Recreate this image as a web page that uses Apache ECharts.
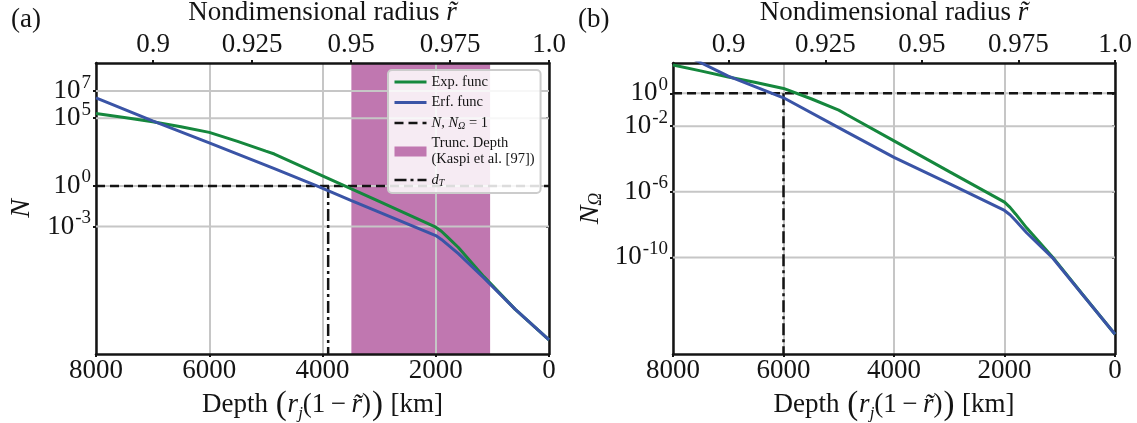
<!DOCTYPE html>
<html>
<head>
<meta charset="utf-8">
<script src="https://cdn.jsdelivr.net/npm/echarts@6/dist/echarts.min.js"></script>
<style>
html,body{margin:0;padding:0;background:#fff;}
#chart{width:1137px;height:423px;}
</style>
</head>
<body>
<div id="chart"></div>
<script>
// ---------- data ----------
const R_J = 69911;                               // Jupiter radius [km], for the top axis
const depthTicks = [8000, 6000, 4000, 2000, 0];
const radiusTicks = [0.9, 0.925, 0.95, 0.975, 1.0];
const yTicksA = [7, 5, 0, -3];                   // exponents shown on panel (a)
const yTicksB = [0, -2, -6, -10];                // exponents shown on panel (b)
const yRangeA = [-12.41, 9.07];                  // log10 range of panel (a)
const yRangeB = [-15.89, 1.85];                  // log10 range of panel (b)

// panel (a): log10 N
const depthExpA = [8000, 7500, 7000, 6500, 6000, 5500, 5000, 4850, 4000, 3000, 2000, 1900, 1800, 1600, 1150, 600, 0];
const logNExpA  = [5.35, 5.05, 4.73, 4.37, 3.95, 3.28, 2.56, 2.35, 0.74, -1.15, -3.05, -3.35, -3.75, -4.55, -6.7, -9.1, -11.37];
const depthErfA = [8000, 7000, 6000, 4850, 4100, 3500, 2000, 1900, 1800, 1600, 1150, 600, 0];
const logNErfA  = [6.5, 4.8, 3.18, 1.27, 0, -1.07, -3.67, -3.95, -4.3, -5.0, -6.8, -9.1, -11.37];

// panel (b): log10 N_Omega
const depthExpB = [8000, 7500, 7000, 6500, 6000, 5500, 5000, 4860, 4000, 3000, 2000, 1900, 1800, 1600, 1124, 600, 0];
const logNExpB  = [1.73, 1.37, 1.0, 0.66, 0.3, -0.33, -1.02, -1.29, -2.9, -4.77, -6.63, -6.95, -7.35, -8.2, -10.0, -12.2, -14.69];
const depthErfB = [8000, 7000, 6000, 4860, 4000, 3000, 2000, 1900, 1800, 1600, 1124, 600, 0];
const logNErfB  = [2.7, 1.05, -0.27, -2.35, -3.9, -5.5, -7.14, -7.4, -7.75, -8.5, -10.05, -12.22, -14.69];

const thresholdLog = 0;              // N, N_Omega = 1
const truncDepth = [3490, 1040];     // Kaspi et al. truncation-depth band (panel a)
const dTA = 3900;                    // d_T panel (a)
const dTB = 6000;                    // d_T panel (b)

// ---------- styling ----------
const FONT = "'Liberation Serif', 'Times New Roman', serif";
const GREEN = '#15873d', BLUE = '#3a54a6', PINK = '#c077b0', INK = '#141414', GRID = '#c6c6c6';

const zip = (xs, ys) => xs.map((x, i) => [x, ys[i]]);
const evens = a => a.filter((_, i) => i % 2 === 0);
const odds = a => a.filter((_, i) => i % 2 === 1);

const supRich = {
  b: {fontFamily: FONT, fontSize: 27, color: INK, lineHeight: 22},
  s: {fontFamily: FONT, fontSize: 19, color: INK, verticalAlign: 'top', height: 5, lineHeight: 6, padding: [0, 0, 0, 1]}
};
const powLabel = v => '{b|10}{s|' + v + '}';

function bottomAxis(gridIndex){
  return {
    type: 'value', gridIndex, position: 'bottom', inverse: true,
    min: 0, max: 8000, interval: 2000,
    axisLine: {show: true, onZero: false, lineStyle: {color: INK, width: 2.5}},
    axisTick: {show: true, length: 3, lineStyle: {color: INK, width: 2}},
    axisLabel: {fontFamily: FONT, fontSize: 27, color: INK, margin: 3, hideOverlap: false,
      showMinLabel: true, showMaxLabel: true, formatter: v => String(v)},
    splitLine: {show: true, lineStyle: {color: GRID, width: 2}},
    name: 'Depth {p|(}{i|r}{sub|j}(1\u2009−\u2009{i|r\u0303}){p|)} [km]',
    nameLocation: 'middle', nameGap: 34,
    nameTextStyle: {
      fontFamily: FONT, fontSize: 27, color: INK,
      rich: {
        i: {fontFamily: FONT, fontSize: 27, fontStyle: 'italic', color: INK},
        sub: {fontFamily: FONT, fontSize: 17, fontStyle: 'italic', color: INK, verticalAlign: 'bottom', lineHeight: 22},
        p: {fontFamily: FONT, fontSize: 33, color: INK, padding: [0, 1, 0, 1]}
      }
    }
  };
}
function topAxis(gridIndex){
  return {
    type: 'value', gridIndex, position: 'top',
    min: 1 - 8000 / R_J, max: 1,
    axisLine: {show: true, onZero: false, lineStyle: {color: INK, width: 2.5}},
    axisTick: {show: true, length: 3, customValues: radiusTicks, lineStyle: {color: INK, width: 2}},
    axisLabel: {fontFamily: FONT, fontSize: 27, color: INK, margin: 5, customValues: radiusTicks, hideOverlap: false,
      showMinLabel: true, showMaxLabel: true,
      formatter: v => (v === 1 ? '1.0' : String(v))},
    splitLine: {show: false},
    name: 'Nondimensional radius {i|r\u0303}',
    nameLocation: 'middle', nameGap: 29,
    nameTextStyle: {fontFamily: FONT, fontSize: 27, color: INK,
      rich: {i: {fontFamily: FONT, fontSize: 27, fontStyle: 'italic', color: INK}}}
  };
}
function leftAxis(gridIndex, range, ticks, name, nameGap){
  return {
    type: 'value', gridIndex, position: 'left', min: range[0], max: range[1],
    axisLine: {show: true, onZero: false, lineStyle: {color: INK, width: 2.5}},
    axisTick: {show: true, length: 3, customValues: ticks, lineStyle: {color: INK, width: 2}},
    axisLabel: {customValues: ticks, formatter: powLabel, rich: supRich, margin: 5, hideOverlap: false,
      showMinLabel: true, showMaxLabel: true},
    splitLine: {show: false},
    name, nameLocation: 'middle', nameGap, nameRotate: 90,
    nameTextStyle: {fontFamily: FONT, fontSize: 28, fontStyle: 'italic', color: INK,
      rich: {
        i: {fontFamily: FONT, fontSize: 28, fontStyle: 'italic', color: INK},
        sub: {fontFamily: FONT, fontSize: 18, color: INK, verticalAlign: 'bottom', lineHeight: 24}
      }}
  };
}
// second left axis carrying the alternate tick labels (so close labels are never dropped)
function leftAuxAxis(gridIndex, range, ticks){
  return {
    type: 'value', gridIndex, position: 'left', offset: 0, min: range[0], max: range[1],
    axisLine: {show: false, onZero: false},
    axisTick: {show: true, length: 3, customValues: ticks, lineStyle: {color: INK, width: 2}},
    axisLabel: {customValues: ticks, formatter: powLabel, rich: supRich, margin: 5, hideOverlap: false,
      showMinLabel: true, showMaxLabel: true},
    splitLine: {show: false}
  };
}
function rightAxis(gridIndex, range, ticks){
  return {
    type: 'value', gridIndex, position: 'right', min: range[0], max: range[1],
    axisLine: {show: true, onZero: false, lineStyle: {color: INK, width: 2.5}},
    axisTick: {show: true, inside: true, length: 3, customValues: ticks, lineStyle: {color: INK, width: 2}},
    axisLabel: {show: false},
    splitLine: {show: false}
  };
}

// horizontal grid lines at the labelled exponents, drawn through the axes' scales
function hGridSeries(xi, yi, ticks){
  return {
    name: 'hgrid', type: 'custom', xAxisIndex: xi, yAxisIndex: yi, z: 1, silent: true,
    data: ticks.map(v => [v]),
    encode: {y: 0},
    renderItem: (params, api) => {
      const a = api.coord([depthTicks[0], api.value(0)]);
      const b = api.coord([depthTicks[depthTicks.length - 1], api.value(0)]);
      return {type: 'line', shape: {x1: a[0], y1: a[1], x2: b[0], y2: b[1]},
        style: {stroke: GRID, lineWidth: 2}};
    }
  };
}

function panelSeries(xi, yi, expD, expL, erfD, erfL, dT, yMin, withBand){
  const s = [
    {name: 'Exp', type: 'line', xAxisIndex: xi, yAxisIndex: yi, data: zip(expD, expL),
      symbol: 'none', z: 4, lineStyle: {color: GREEN, width: 3}, itemStyle: {color: GREEN}},
    {name: 'Erf', type: 'line', xAxisIndex: xi, yAxisIndex: yi, data: zip(erfD, erfL),
      symbol: 'none', z: 5, lineStyle: {color: BLUE, width: 3}, itemStyle: {color: BLUE}},
    {name: 'N1', type: 'line', xAxisIndex: xi, yAxisIndex: yi, data: [[8000, thresholdLog], [0, thresholdLog]],
      symbol: 'none', z: 3, lineStyle: {color: INK, width: 2.5, type: [9, 5]}, itemStyle: {color: INK}},
    {name: 'dT', type: 'line', xAxisIndex: xi, yAxisIndex: yi, data: [[dT, thresholdLog], [dT, yMin]],
      symbol: 'none', z: 3, lineStyle: {color: INK, width: 2.5, type: [12, 4, 3, 4]}, itemStyle: {color: INK}}
  ];
  if (withBand) {
    s.push({
      name: 'Trunc', type: 'custom', xAxisIndex: xi, yAxisIndex: yi, z: -1,
      itemStyle: {color: PINK},
      data: [[truncDepth[0], truncDepth[1]]],
      encode: {x: [0, 1]},
      renderItem: (params, api) => {
        const p0 = api.coord([api.value(0), yRangeA[1]]);
        const p1 = api.coord([api.value(1), yRangeA[0]]);
        return {type: 'rect',
          shape: {x: Math.min(p0[0], p1[0]), y: p0[1], width: Math.abs(p1[0] - p0[0]), height: p1[1] - p0[1]},
          style: {fill: PINK}};
      }
    });
  }
  return s;
}

const legendNames = {
  'Exp': 'Exp. func',
  'Erf': 'Erf. func',
  'N1': '{i|N}, {i|N}{sub|Ω} = 1',
  'Trunc': 'Trunc. Depth\n(Kaspi et al. [97])',
  'dT': '{i|d}{sub|T}'
};
const hideSym = {opacity: 0};

const option = {
  backgroundColor: '#ffffff',
  animation: false,
  title: [
    {text: '(a)', left: 11, top: 6, padding: 0, textStyle: {fontFamily: FONT, fontSize: 27, fontWeight: 'normal', color: INK}},
    {text: '(b)', left: 578, top: 6, padding: 0, textStyle: {fontFamily: FONT, fontSize: 27, fontWeight: 'normal', color: INK}}
  ],
  grid: [
    {left: 96, right: 1137 - 549, top: 63, bottom: 423 - 354, containLabel: false, outerBoundsMode: 'none'},
    {left: 673, right: 1137 - 1115, top: 63, bottom: 423 - 354, containLabel: false, outerBoundsMode: 'none'}
  ],
  xAxis: [bottomAxis(0), topAxis(0), bottomAxis(1), topAxis(1)],
  yAxis: [
    leftAxis(0, yRangeA, evens(yTicksA), 'N', 60),
    rightAxis(0, yRangeA, yTicksA),
    leftAxis(1, yRangeB, evens(yTicksB), '{i|N}{sub|Ω}', 68),
    rightAxis(1, yRangeB, yTicksB),
    leftAuxAxis(0, yRangeA, odds(yTicksA)),
    leftAuxAxis(1, yRangeB, odds(yTicksB))
  ],
  legend: {
    orient: 'vertical', left: 388, top: 70,
    data: [
      {name: 'Exp', itemStyle: hideSym, lineStyle: {width: 3}},
      {name: 'Erf', itemStyle: hideSym, lineStyle: {width: 3}},
      {name: 'N1', itemStyle: hideSym, lineStyle: {width: 2.5}},
      {name: 'Trunc', icon: 'rect'},
      {name: 'dT', itemStyle: hideSym, lineStyle: {width: 2.5}}
    ],
    formatter: n => legendNames[n],
    itemWidth: 32, itemHeight: 10, itemGap: 4.5,
    padding: [4, 6, 5, 5],
    backgroundColor: 'rgba(255,255,255,0.85)',
    borderColor: '#cccccc', borderWidth: 2, borderRadius: 4,
    textStyle: {fontFamily: FONT, fontSize: 14.5, lineHeight: 16, color: INK,
      rich: {
        i: {fontFamily: FONT, fontSize: 14.5, fontStyle: 'italic', color: INK},
        sub: {fontFamily: FONT, fontSize: 10, fontStyle: 'italic', color: INK, verticalAlign: 'bottom', lineHeight: 14}
      }},
    selectedMode: false,
    z: 10
  },
  series: [
    hGridSeries(0, 0, yTicksA),
    hGridSeries(2, 2, yTicksB),
    ...panelSeries(0, 0, depthExpA, logNExpA, depthErfA, logNErfA, dTA, yRangeA[0], true),
    ...panelSeries(2, 2, depthExpB, logNExpB, depthErfB, logNErfB, dTB, yRangeB[0], false)
  ]
};

const chart = echarts.init(document.getElementById('chart'), null, {renderer: 'canvas'});
chart.setOption(option);
</script>
</body>
</html>
